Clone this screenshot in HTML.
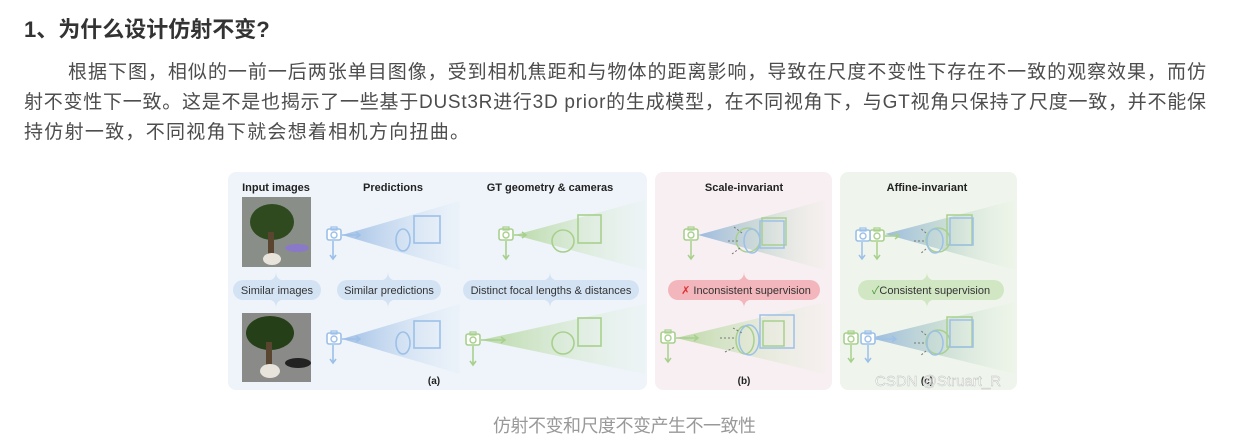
<!DOCTYPE html>
<html><head><meta charset="utf-8"><style>
html,body{margin:0;padding:0;background:#fff;width:1236px;height:442px;overflow:hidden}
body{font-family:"Liberation Sans","Noto Sans CJK SC",sans-serif;color:#4d4d4d;position:relative}
svg{position:absolute;left:0;top:0}
svg text{font-family:"Liberation Sans","Noto Sans CJK SC",sans-serif}
</style></head><body>
<svg width="1236" height="442" viewBox="0 0 1236 442">
<defs>
<linearGradient id="gb" x1="0" x2="1"><stop offset="0" stop-color="#7fa8dc" stop-opacity=".7"/><stop offset="1" stop-color="#cfe0f3" stop-opacity=".1"/></linearGradient>
<linearGradient id="gg" x1="0" x2="1"><stop offset="0" stop-color="#a8d08d" stop-opacity=".75"/><stop offset="1" stop-color="#dcedd0" stop-opacity=".1"/></linearGradient>
<linearGradient id="gm" x1="0" x2="1"><stop offset="0" stop-color="#7fa8dc" stop-opacity=".75"/><stop offset=".5" stop-color="#a9c8c0" stop-opacity=".5"/><stop offset="1" stop-color="#dcedd0" stop-opacity=".1"/></linearGradient>
<g id="cam"><rect x="-7" y="-6" width="14" height="11" rx="2" fill="#fff" stroke-width="1.6"/><rect x="-3" y="-8" width="6" height="3" fill="none" stroke-width="1.2"/><circle cx="0" cy="0" r="3" fill="none" stroke-width="1.4"/></g>
</defs>
<text x="24" y="37" font-size="22" font-weight="bold" fill="#333">1、为什么设计仿射不变?</text>
<g font-size="19" fill="#4d4d4d">
<text x="68" y="78" textLength="1138" lengthAdjust="spacing">根据下图，相似的一前一后两张单目图像，受到相机焦距和与物体的距离影响，导致在尺度不变性下存在不一致的观察效果，而仿</text>
<text x="24" y="108" textLength="1182" lengthAdjust="spacing">射不变性下一致。这是不是也揭示了一些基于DUSt3R进行3D prior的生成模型，在不同视角下，与GT视角只保持了尺度一致，并不能保</text>
<text x="24" y="138" textLength="445" lengthAdjust="spacing">持仿射一致，不同视角下就会想着相机方向扭曲。</text>
</g>
<text x="493" y="432" font-size="18" fill="#999" textLength="263" lengthAdjust="spacing">仿射不变和尺度不变产生不一致性</text>
<!-- panels -->
<rect x="228" y="172" width="419" height="218" rx="8" fill="#eef4fa"/>
<rect x="655" y="172" width="177" height="218" rx="8" fill="#f8eff2"/>
<rect x="840" y="172" width="177" height="218" rx="8" fill="#eff5ec"/>
<g font-weight="bold" font-size="11" fill="#222" text-anchor="middle">
<text x="276" y="191">Input images</text><text x="393" y="191">Predictions</text><text x="550" y="191">GT geometry &amp; cameras</text>
<text x="744" y="191">Scale-invariant</text><text x="927" y="191">Affine-invariant</text>
<text x="434" y="384" font-size="10">(a)</text><text x="744" y="384" font-size="10">(b)</text><text x="927" y="384" font-size="10">(c)</text>
</g>
<!-- images -->
<rect x="242" y="197" width="69" height="70" fill="#8a8e88"/>
<ellipse cx="272" cy="222" rx="22" ry="18" fill="#2e4a1e"/><rect x="268" y="232" width="6" height="24" fill="#5a4630"/><ellipse cx="272" cy="259" rx="9" ry="6" fill="#e8e4dc"/><ellipse cx="297" cy="248" rx="12" ry="4" fill="#8a78c8"/>
<rect x="242" y="313" width="69" height="69" fill="#8a8a88"/>
<ellipse cx="270" cy="333" rx="24" ry="17" fill="#253f18"/><rect x="266" y="342" width="6" height="26" fill="#5a4630"/><ellipse cx="270" cy="371" rx="10" ry="7" fill="#e8e4dc"/><ellipse cx="298" cy="363" rx="13" ry="5" fill="#222"/>
<!-- pills -->
<g font-size="11" text-anchor="middle" fill="#333">
<rect x="233" y="280" width="88" height="20" rx="10" fill="#d3e3f4"/><text x="277" y="294">Similar images</text>
<rect x="337" y="280" width="104" height="20" rx="10" fill="#d3e3f4"/><text x="389" y="294">Similar predictions</text>
<rect x="463" y="280" width="176" height="20" rx="10" fill="#d3e3f4"/><text x="551" y="294">Distinct focal lengths &amp; distances</text>
<rect x="668" y="280" width="152" height="20" rx="10" fill="#f2b6bc"/><text x="746" y="294"><tspan fill="#d33">✗</tspan> Inconsistent supervision</text>
<rect x="858" y="280" width="146" height="20" rx="10" fill="#d1e7c3"/><text x="931" y="294"><tspan fill="#4a9a3a">✓</tspan>Consistent supervision</text>
</g>
<g fill="#d3e3f4"><path d="M271 280 q5 -2 5 -8 q0 6 5 8z"/><path d="M271 300 q5 2 5 8 q0 -6 5 -8z"/><path d="M383 280 q5 -2 5 -8 q0 6 5 8z"/><path d="M383 300 q5 2 5 8 q0 -6 5 -8z"/><path d="M545 280 q5 -2 5 -8 q0 6 5 8z"/><path d="M545 300 q5 2 5 8 q0 -6 5 -8z"/></g>
<path d="M739 280 q5 -2 5 -8 q0 6 5 8z M739 300 q5 2 5 8 q0 -6 5 -8z" fill="#f2b6bc"/>
<path d="M922 280 q5 -2 5 -8 q0 6 5 8z M922 300 q5 2 5 8 q0 -6 5 -8z" fill="#d1e7c3"/>
<!-- (a) predictions -->
<g stroke="#9cc0e8" fill="none" stroke-width="1.6">
<path d="M342 235 L460 201 L460 270Z" fill="url(#gb)" stroke="none"/>
<path d="M342 339 L460 304 L460 374Z" fill="url(#gb)" stroke="none"/>
<ellipse cx="403" cy="240" rx="7" ry="11"/><rect x="414" y="216" width="26" height="27"/>
<ellipse cx="403" cy="343" rx="7" ry="11"/><rect x="414" y="321" width="26" height="27"/>
<use href="#cam" x="334" y="235"/><use href="#cam" x="334" y="339"/>
<path d="M342 235h18M356 232l4 3-4 3M333 241v17M330 255l3 4 3-4M342 339h18M356 336l4 3-4 3M333 345v17M330 359l3 4 3-4"/>
</g>
<!-- (a) GT -->
<g stroke="#a8d08d" fill="none" stroke-width="1.6">
<path d="M515 235 L645 200 L645 270Z" fill="url(#gg)" stroke="none"/>
<path d="M481 340 L645 304 L645 374Z" fill="url(#gg)" stroke="none"/>
<circle cx="563" cy="241" r="11"/><rect x="578" y="215" width="23" height="28"/>
<circle cx="563" cy="343" r="11"/><rect x="578" y="318" width="23" height="28"/>
<use href="#cam" x="506" y="235"/><use href="#cam" x="473" y="340"/>
<path d="M514 235h12M522 232l4 3-4 3M506 241v17M503 255l3 4 3-4M481 340h24M501 337l4 3-4 3M473 346v18M470 361l3 4 3-4"/>
</g>
<!-- (b) -->
<path d="M698 235 L825 200 L825 270Z" fill="url(#gm)"/>
<path d="M676 338 L825 302 L825 374Z" fill="url(#gg)"/>
<g fill="none" stroke-width="1.5">
<g stroke="#a8d08d"><circle cx="748" cy="240" r="12"/><rect x="762" y="218" width="24" height="27"/><ellipse cx="745" cy="340" rx="9" ry="14"/><rect x="763" y="321" width="21" height="25"/>
<use href="#cam" x="691" y="235"/><use href="#cam" x="668" y="338"/>
<path d="M691 241v17M688 255l3 4 3-4M676 338h22M694 335l4 3-4 3M668 344v17M665 358l3 4 3-4"/></g>
<g stroke="#9cc0e8"><ellipse cx="752" cy="241" rx="8" ry="12"/><rect x="760" y="221" width="24" height="27"/><ellipse cx="749" cy="340" rx="10" ry="15"/><rect x="760" y="315" width="34" height="33"/></g>
<g stroke="#777" stroke-dasharray="2 2" stroke-width="1"><path d="M742 233l-8-6M738 241l-10 0M740 248l-8 6M733 328l9 5M720 338h14M725 352l10-5"/></g>
</g>
<!-- (c) -->
<path d="M885 234 L1015 200 L1015 270Z" fill="url(#gm)"/>
<path d="M870 338 L1015 302 L1015 374Z" fill="url(#gm)"/>
<g fill="none" stroke-width="1.5">
<g stroke="#a8d08d"><circle cx="938" cy="240" r="12"/><rect x="947" y="215" width="25" height="30"/><circle cx="938" cy="342" r="12"/><rect x="947" y="317" width="25" height="30"/>
<use href="#cam" x="877" y="236"/><use href="#cam" x="851" y="339"/>
<path d="M885 236h14M895 233l4 3-4 3M877 242v16M874 255l3 4 3-4M851 345v16M848 358l3 4 3-4"/></g>
<g stroke="#9cc0e8"><ellipse cx="935" cy="241" rx="8" ry="12"/><rect x="950" y="218" width="23" height="27"/><ellipse cx="935" cy="343" rx="8" ry="12"/><rect x="950" y="320" width="23" height="27"/>
<use href="#cam" x="863" y="236"/><use href="#cam" x="868" y="339"/>
<path d="M862 242v16M859 255l3 4 3-4M868 345v16M865 358l3 4 3-4M876 339h20M892 336l4 3-4 3"/></g>
<g stroke="#777" stroke-dasharray="2 2" stroke-width="1"><path d="M926 233l-6-5M924 241h-10M926 249l-6 5M926 335l-6-5M924 343h-10M926 351l-6 5"/></g>
</g>
<text x="875" y="386" font-size="15" fill="#fff" stroke="#bbb" stroke-width=".4" fill-opacity=".6">CSDN @Struart_R</text>
</svg>
</body></html>
